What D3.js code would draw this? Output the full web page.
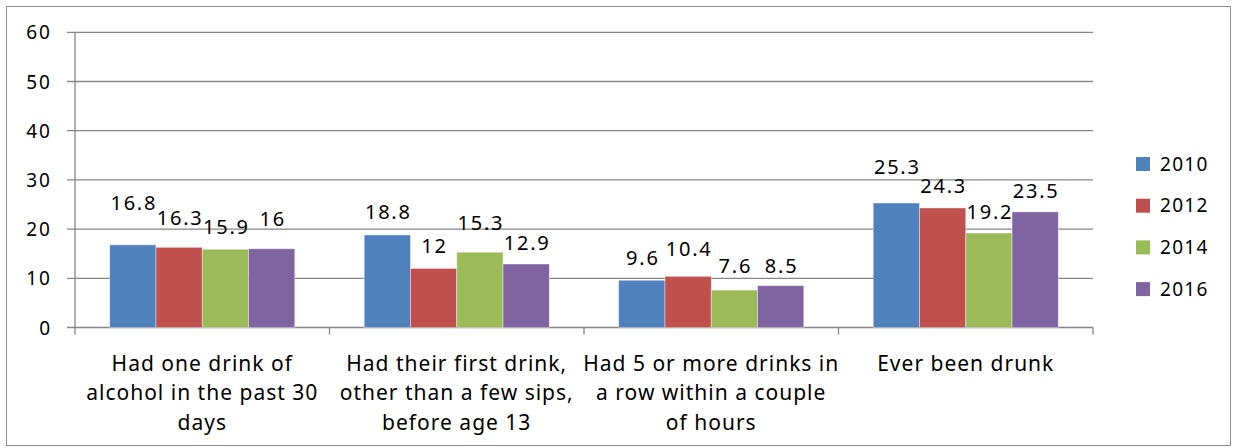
<!DOCTYPE html>
<html>
<head>
<meta charset="utf-8">
<script src="https://cdn.jsdelivr.net/npm/d3@7"></script>
<style>
  body { margin: 0; background: #fff; }
  svg text { font-family: "Noto Sans", "DejaVu Sans", sans-serif; fill: #000; }
</style>
</head>
<body>
<div id="chart"></div>
<script>
const categories = [
    ["Had one drink of", "alcohol in the past 30", "days"],
    ["Had their first drink,", "other than a few sips,", "before age 13"],
    ["Had 5 or more drinks in", "a row within a couple", "of hours"],
    ["Ever been drunk"]
];
const years = ["2010", "2012", "2014", "2016"];
const values2010 = [16.8, 18.8, 9.6, 25.3];
const values2012 = [16.3, 12, 10.4, 24.3];
const values2014 = [15.9, 15.3, 7.6, 19.2];
const values2016 = [16, 12.9, 8.5, 23.5];
const yTicks = [0, 10, 20, 30, 40, 50, 60];

// extra lift of the value labels (px), mimics the staggered labels of the original
const labelLift = [
    [42, 29, 22, 30],
    [23, 22, 29, 21],
    [22, 27, 24, 20],
    [36, 22, 21, 21]
];

const colors = ["#4F81BD", "#C0504D", "#9BBB59", "#8064A2"];
const series = [values2010, values2012, values2014, values2016];

const W = 1233, H = 448;
const margin = {top: 32.3, left: 75, right: 140, bottom: 120.5};
const plotW = 1093 - margin.left;
const plotH = 327.5 - margin.top;

const svg = d3.select("#chart").append("svg")
    .attr("width", W)
    .attr("height", H);

// outer frame
svg.append("rect")
    .attr("x", 6.5).attr("y", 6.5)
    .attr("width", 1224).attr("height", 439)
    .attr("fill", "none")
    .attr("stroke", "#8c8c8c")
    .attr("stroke-width", 1);

const g = svg.append("g")
    .attr("transform", "translate(" + margin.left + "," + margin.top + ")");

const idx = categories.map((d, i) => i);

const x0 = d3.scaleBand()
    .domain(idx)
    .range([0, plotW]);

// gap width of 150% of a bar -> 4 bars + 1.5 bars per band
const barW = x0.bandwidth() / 5.5;
const x1 = d3.scaleBand()
    .domain(years)
    .range([0, barW * 4]);

const y = d3.scaleLinear()
    .domain([0, 60])
    .range([plotH, 0]);

// gridlines
g.append("g")
    .selectAll("line")
    .data(yTicks)
    .enter()
    .append("line")
    .attr("x1", -8)
    .attr("x2", plotW)
    .attr("y1", d => y(d))
    .attr("y2", d => y(d))
    .attr("stroke", "#868686")
    .attr("stroke-width", 1.3);

// y axis
const yAxis = g.append("g")
    .call(d3.axisLeft(y).tickValues(yTicks).tickSize(0).tickPadding(23));
yAxis.select(".domain").remove();
yAxis.selectAll("text")
    .attr("font-size", "19px")
    .attr("letter-spacing", "2px")
    .attr("dy", "0.35em");

g.append("line")
    .attr("x1", 0).attr("x2", 0)
    .attr("y1", 0).attr("y2", plotH + 7)
    .attr("stroke", "#868686")
    .attr("stroke-width", 1.3);

// category tick marks
g.append("g")
    .selectAll("line")
    .data(d3.range(1, categories.length + 1))
    .enter()
    .append("line")
    .attr("x1", d => d * x0.step())
    .attr("x2", d => d * x0.step())
    .attr("y1", plotH)
    .attr("y2", plotH + 7)
    .attr("stroke", "#868686")
    .attr("stroke-width", 1.3);

// bars
const groups = g.selectAll(".grp")
    .data(idx)
    .enter()
    .append("g")
    .attr("class", "grp")
    .attr("transform", i => "translate(" + (x0(i) + barW * 0.75) + ",0)");

groups.selectAll("rect")
    .data(i => series.map((s, j) => ({v: s[i], j: j})))
    .enter()
    .append("rect")
    .attr("x", d => x1(years[d.j]))
    .attr("y", d => y(d.v))
    .attr("width", x1.bandwidth())
    .attr("height", d => plotH - y(d.v))
    .attr("fill", d => colors[d.j])
    .attr("stroke", "#fff")
    .attr("stroke-opacity", 0.5)
    .attr("stroke-width", 0.8);

groups.selectAll(".val")
    .data(i => series.map((s, j) => ({v: s[i], j: j, i: i})))
    .enter()
    .append("text")
    .attr("class", "val")
    .attr("x", d => x1(years[d.j]) + x1.bandwidth() / 2 + 1)
    .attr("y", d => y(d.v) - labelLift[d.i][d.j])
    .attr("dy", "0.35em")
    .attr("text-anchor", "middle")
    .attr("font-size", "20px")
    .attr("letter-spacing", "1.8px")
    .text(d => d.v);

// category labels
const cat = g.append("g")
    .selectAll("text")
    .data(idx)
    .enter()
    .append("text")
    .attr("x", i => x0(i) + x0.bandwidth() / 2)
    .attr("y", plotH + 36)
    .attr("text-anchor", "middle")
    .attr("font-size", "21px")
    .attr("letter-spacing", "1px");

cat.selectAll("tspan")
    .data(i => categories[i])
    .enter()
    .append("tspan")
    .attr("x", function () { return d3.select(this.parentNode).attr("x"); })
    .attr("dy", (d, k) => k === 0 ? "0.35em" : "29.5px")
    .text(d => d);

// legend
const legend = svg.append("g")
    .attr("transform", "translate(1136,164)");

const item = legend.selectAll("g")
    .data(years)
    .enter()
    .append("g")
    .attr("transform", (d, k) => "translate(0," + (k * 41.7) + ")");

item.append("rect")
    .attr("x", 0).attr("y", -7)
    .attr("width", 14).attr("height", 14)
    .attr("fill", (d, k) => colors[k]);

item.append("text")
    .attr("x", 24)
    .attr("dy", "0.35em")
    .attr("font-size", "19px")
    .attr("letter-spacing", "1.3px")
    .text(d => d);
</script>
</body>
</html>
